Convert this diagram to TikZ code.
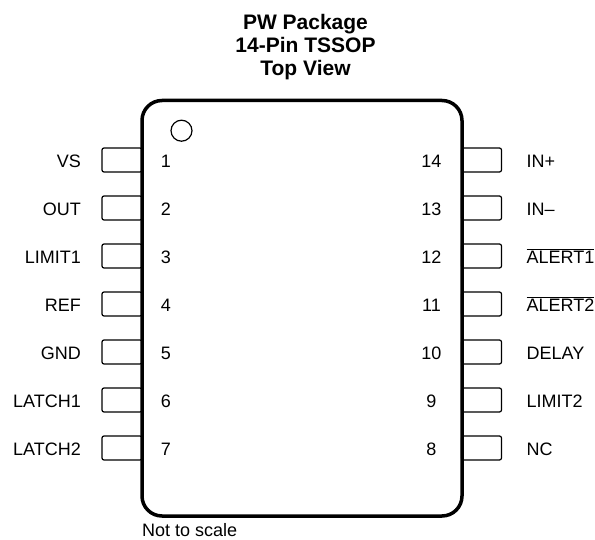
\documentclass[tikz,border=0pt]{standalone}
\usepackage{fontspec}
\setmainfont{Liberation Sans}
\newcommand{\barname}[1]{$\overline{\mbox{\rule{0pt}{13pt}#1}}$}
\tikzset{
  pinlead/.style={draw, line width=1.2pt, rounded corners=2pt, minimum width=40pt, minimum height=24pt, inner sep=0pt, anchor=center},
  pinname/.style={font=\fontsize{18}{20}\selectfont, text height=15.4pt, text depth=0pt, inner sep=0pt},
  lname/.style={pinname, anchor=east},
  rname/.style={pinname, anchor=west},
  pinnum/.style={pinname, anchor=center},
  package/.style={draw, line width=3.5pt, rounded corners=20pt, minimum width=320pt, minimum height=415.5pt, inner sep=0pt},
}
\begin{document}
\begin{tikzpicture}[x=1pt,y=-1pt]
  \useasboundingbox (0,0) rectangle (595,540);
  \matrix[row sep={48pt,between origins}, ampersand replacement=\&, matrix anchor=P1.center] at (122,160)
  {
    \node[lname](L1) {VS}; \& [41pt,between origins] \node[pinlead](P1) {}; \& [44pt,between origins] \node[pinnum](N1) {1}; \& [265.5pt,between origins] \node[pinnum](N14) {14}; \& [50pt,between origins] \node[pinlead](P14) {}; \& [45pt,between origins] \node[rname](L14) {IN+}; \\
    \node[lname](L2) {OUT}; \& \node[pinlead](P2) {}; \& \node[pinnum](N2) {2}; \& \node[pinnum](N13) {13}; \& \node[pinlead](P13) {}; \& \node[rname](L13) {IN--}; \\
    \node[lname](L3) {LIMIT1}; \& \node[pinlead](P3) {}; \& \node[pinnum](N3) {3}; \& \node[pinnum](N12) {12}; \& \node[pinlead](P12) {}; \& \node[rname](L12) {\barname{ALERT1}}; \\
    \node[lname](L4) {REF}; \& \node[pinlead](P4) {}; \& \node[pinnum](N4) {4}; \& \node[pinnum](N11) {11}; \& \node[pinlead](P11) {}; \& \node[rname](L11) {\barname{ALERT2}}; \\
    \node[lname](L5) {GND}; \& \node[pinlead](P5) {}; \& \node[pinnum](N5) {5}; \& \node[pinnum](N10) {10}; \& \node[pinlead](P10) {}; \& \node[rname](L10) {DELAY}; \\
    \node[lname](L6) {LATCH1}; \& \node[pinlead](P6) {}; \& \node[pinnum](N6) {6}; \& \node[pinnum](N9) {9}; \& \node[pinlead](P9) {}; \& \node[rname](L9) {LIMIT2}; \\
    \node[lname](L7) {LATCH2}; \& \node[pinlead](P7) {}; \& \node[pinnum](N7) {7}; \& \node[pinnum](N8) {8}; \& \node[pinlead](P8) {}; \& \node[rname](L8) {NC}; \\
  };
  \node[package](body) at (302,308.25) {};
  \node[draw, circle, line width=1.2pt, minimum size=21pt, inner sep=0pt](dot) at (181.5,130.7) {};
  \node[align=center, inner sep=0pt, font=\fontsize{21}{23}\selectfont\bfseries](title) at (305.5,47) {PW Package\\14-Pin TSSOP\\Top View};
  \node[anchor=west, inner sep=0pt, font=\fontsize{18}{20}\selectfont](scale) at (142,530) {Not to scale};
\end{tikzpicture}
\end{document}
